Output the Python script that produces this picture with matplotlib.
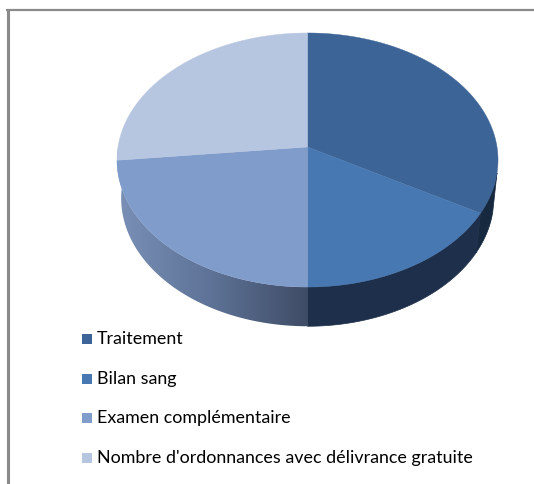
import numpy as np
import matplotlib
matplotlib.use("Agg")
import matplotlib.pyplot as plt
from matplotlib.colors import LinearSegmentedColormap
from matplotlib.patches import Polygon, Rectangle

categories = ["Traitement", "Bilan sang", "Examen complémentaire",
              "Nombre d'ordonnances avec délivrance gratuite"]
values = [30, 15, 21, 24]
top_colors = ["#3d6496", "#4878b1", "#7f9ccb", "#b7c6e0"]

W, H = 534, 484
fig = plt.figure(figsize=(W / 100, H / 100), dpi=100, facecolor="white")
ax = fig.add_axes([0, 0, 1, 1])
ax.set_xlim(0, W)
ax.set_ylim(H, 0)
ax.axis("off")


def project(t, cx=307.5, cy=147.0, w=189.5, h=125.7, k=0.1024):
    """Perspective projection of a disc point at clockwise angle t from the top."""
    c = np.cos(t)
    d = 1 + k * c
    return cx + w * np.sin(t) / d, cy - h * c / d


fractions = np.array(values, dtype=float) / sum(values)
edges = np.concatenate([[0], np.cumsum(fractions)]) * 2 * np.pi

# Outer frame of the chart area
ax.plot([7.5, 7.5], [H, 9], color="#8a8a8a", lw=2.2, solid_capstyle="butt")
ax.plot([6, W], [10, 10], color="#8a8a8a", lw=1.6, solid_capstyle="butt")


def side_polygon(t0, t1):
    """Wall of the disc between two angles, as rim points then base points."""
    t = np.linspace(t0, t1, 120)
    x, y = project(t)
    xb, yb = project(t, cx=307.5, cy=186.0, w=185.5, h=127.0, k=0.0945)
    return np.column_stack([np.r_[x, xb[::-1]], np.r_[y, yb[::-1]]])


# Wall under the two lower slices and the dark sliver on the right
dark_walls = [(edges[1] - 0.32, edges[1], "#16293f"), (edges[1], edges[2], "#1d2f4a")]
for t0, t1, col in dark_walls:
    ax.add_patch(Polygon(side_polygon(t0, t1), closed=True, fc=col, ec=col, lw=0.5, zorder=2))

# Shaded wall under the third slice, darkening toward the front
wall_poly = Polygon(side_polygon(edges[2], 3 * np.pi / 2 + 0.05), closed=True,
                    fc="none", ec="none", zorder=2)
ax.add_patch(wall_poly)
shade = LinearSegmentedColormap.from_list("wall", ["#7a90b6", "#5d7296", "#3f4c66"])
grad = ax.imshow(np.linspace(0, 1, 256)[None, :], cmap=shade, aspect="auto",
                 extent=[117, 307.5, 330, 150], zorder=2)
grad.set_clip_path(wall_poly)
ax.set_xlim(0, W)
ax.set_ylim(H, 0)

# Top face of the disc
for i, col in enumerate(top_colors):
    t = np.linspace(edges[i], edges[i + 1], 160)
    x, y = project(t)
    pts = np.column_stack([np.r_[307.5, x], np.r_[147.0, y]])
    ax.add_patch(Polygon(pts, closed=True, fc=col, ec=col, lw=0.3, zorder=3))

# Legend entries
legend_y = [339, 379, 418, 458]
for label, col, y in zip(categories, top_colors, legend_y):
    ax.add_patch(Rectangle((82, y - 5), 10, 10, fc=col, ec="none", zorder=4))
    ax.text(97, y, label, family="Lato", fontsize=12.9, color="black",
            va="center", ha="left", zorder=4)

fig.savefig("out.png", dpi=100, facecolor="white")
